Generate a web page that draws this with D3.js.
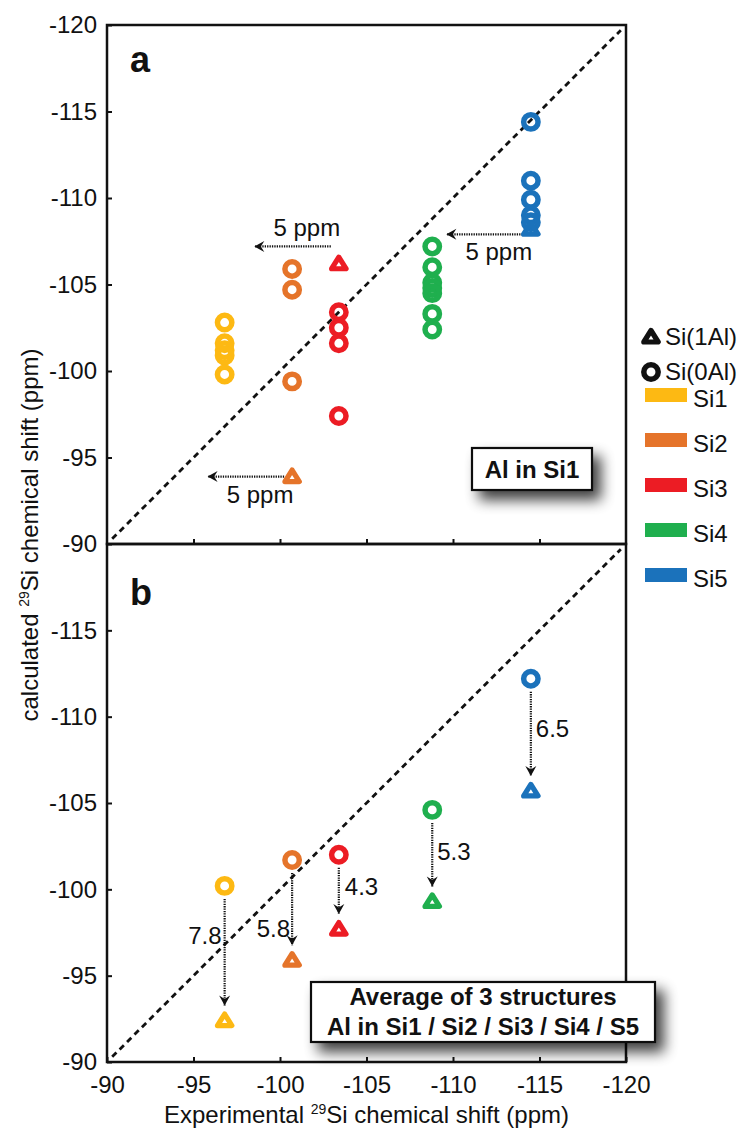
<!DOCTYPE html>
<html>
<head>
<meta charset="utf-8">
<script src="https://cdn.jsdelivr.net/npm/d3@7"></script>
<style>
  body { margin: 0; background: #fff; }
  svg { display: block; }
  text { font-family: "Liberation Sans", Arial, Helvetica, sans-serif; fill: #111; }
</style>
</head>
<body>
<svg id="chart" width="751" height="1130"></svg>
<script>
// Crystallographic Si sites and their colours
const sites = ["Si1", "Si2", "Si3", "Si4", "Si5"];
const siteColors = ["#FDB913", "#E5742A", "#EC1C24", "#1FAF4E", "#1B72BB"];

// Experimental 29Si shift of each site (ppm)
const experimental = [-96.8, -100.7, -103.4, -108.8, -114.5];

// Panel a: calculated shifts with Al in Si1
const calc0AlA = [
  [-102.8, -101.6, -101.2, -100.9, -99.8],
  [-105.9, -104.7, -99.4],
  [-103.4, -102.5, -101.6, -97.4],
  [-107.2, -106.0, -105.1, -104.8, -104.5, -103.3, -102.4],
  [-114.4, -111.0, -109.9, -109.0, -108.6]
];
const calc1AlA = [null, -93.9, -106.2, null, -108.2];

// Panel a: 5 ppm shift arrows (site index, calculated level, shift)
const arrowSitesA = [2, 4, 1];
const arrowLevelsA = [-107.2, -107.9, -93.9];
const arrowShiftA = [5, 5, 5];

// Panel b: average of 3 structures
const avg0AlB = [-100.2, -101.7, -102.0, -104.6, -112.2];
const shiftB = [7.8, 5.8, 4.3, 5.3, 6.5];

// Axis ticks
const tickValues = [-120, -115, -110, -105, -100, -95, -90];

const svg = d3.select("#chart");

const x = d3.scaleLinear().domain([-90, -120]).range([107, 626]);
const yA = d3.scaleLinear().domain([-90, -120]).range([544, 25]);
const yB = d3.scaleLinear().domain([-90, -120]).range([1062, 544]);

// ---------- defs ----------
const defs = svg.append("defs");
defs.append("marker")
  .attr("id", "head")
  .attr("viewBox", "-11 -6 12 12")
  .attr("refX", 0).attr("refY", 0)
  .attr("markerWidth", 12).attr("markerHeight", 12)
  .attr("markerUnits", "userSpaceOnUse")
  .attr("orient", "auto")
  .append("path")
  .attr("d", "M0,0 L-10,-5.5 L-6.5,0 L-10,5.5 Z")
  .attr("fill", "#111");

const shadow = defs.append("filter").attr("id", "shadow")
  .attr("x", "-30%").attr("y", "-60%").attr("width", "170%").attr("height", "260%");
shadow.append("feGaussianBlur").attr("in", "SourceAlpha").attr("stdDeviation", 7).attr("result", "b");
shadow.append("feOffset").attr("in", "b").attr("dx", 8).attr("dy", 9).attr("result", "o");
shadow.append("feComponentTransfer").attr("in", "o").attr("result", "s")
  .append("feFuncA").attr("type", "linear").attr("slope", 0.75);
const merge = shadow.append("feMerge");
merge.append("feMergeNode").attr("in", "s");
merge.append("feMergeNode").attr("in", "SourceGraphic");

// ---------- markers ----------
const triPath = "M0,-6.5 L7.2,5 L-7.2,5 Z";
function circleMark(g, cx, cy, color) {
  g.append("circle").attr("cx", cx).attr("cy", cy).attr("r", 7.2)
    .attr("fill", "none").attr("stroke", color).attr("stroke-width", 5.5);
}
function triMark(g, cx, cy, color) {
  g.append("path").attr("d", triPath)
    .attr("transform", `translate(${cx},${cy})`)
    .attr("fill", "none").attr("stroke", color).attr("stroke-width", 5.2)
    .attr("stroke-linejoin", "round");
}

// ---------- axes ----------
function styleAxis(g) {
  g.select(".domain").remove();
  g.attr("font-size", 24).attr("font-family", null);
  g.selectAll(".tick line").attr("stroke", "#111").attr("stroke-width", 2);
  g.selectAll(".tick text").attr("fill", "#111");
}
const fmt = d => String(d);

svg.append("g").attr("transform", "translate(107,0)")
  .call(d3.axisLeft(yA).tickValues(tickValues).tickSize(-5).tickPadding(10).tickFormat(fmt))
  .call(styleAxis);
svg.append("g").attr("transform", "translate(107,0)")
  .call(d3.axisLeft(yB).tickValues(tickValues.slice(1)).tickSize(-5).tickPadding(10).tickFormat(fmt))
  .call(styleAxis);
svg.append("g").attr("transform", "translate(0,544)")
  .call(d3.axisBottom(x).tickValues(tickValues.slice(1, -1)).tickSize(-5).tickFormat(""))
  .call(styleAxis);
svg.append("g").attr("transform", "translate(0,1062)")
  .call(d3.axisBottom(x).tickValues(tickValues).tickSize(-5).tickPadding(14).tickFormat(fmt))
  .call(styleAxis);

// ---------- frames and diagonals ----------
[yA, yB].forEach(y => {
  svg.append("rect")
    .attr("x", x(-90)).attr("y", y(-120))
    .attr("width", x(-120) - x(-90)).attr("height", y(-90) - y(-120))
    .attr("fill", "none").attr("stroke", "#111").attr("stroke-width", 2.5);
  svg.append("line")
    .attr("x1", x(-90.3)).attr("y1", y(-90.3))
    .attr("x2", x(-119.7)).attr("y2", y(-119.7))
    .attr("stroke", "#111").attr("stroke-width", 2.8)
    .attr("stroke-dasharray", "6,4.5");
});

// ---------- panel labels ----------
svg.append("text").attr("x", 130).attr("y", 72)
  .attr("font-size", 36).attr("font-weight", "bold").text("a");
svg.append("text").attr("x", 130).attr("y", 605)
  .attr("font-size", 36).attr("font-weight", "bold").text("b");

// ---------- panel a ----------
const gA = svg.append("g");
arrowSitesA.forEach((s, k) => {
  const cx = x(experimental[s]);
  const cy = yA(arrowLevelsA[k]);
  const tipX = x(experimental[s] + arrowShiftA[k]);
  const startX = cx - 8;
  gA.append("line")
    .attr("x1", startX).attr("y1", cy).attr("x2", tipX + 2).attr("y2", cy)
    .attr("stroke", "#111").attr("stroke-width", 2.2)
    .attr("stroke-dasharray", "1.3,1.1")
    .attr("marker-end", "url(#head)");
  const above = Math.abs(arrowLevelsA[k] - (calc1AlA[s] ?? arrowLevelsA[k])) > 0.5;
  gA.append("text")
    .attr("x", startX - 24)
    .attr("y", above ? cy - 10 : cy + 26)
    .attr("text-anchor", "middle").attr("font-size", 24)
    .text(arrowShiftA[k] + " ppm");
});
calc0AlA.forEach((vals, i) => {
  vals.forEach(v => circleMark(gA, x(experimental[i]), yA(v), siteColors[i]));
});
calc1AlA.forEach((v, i) => {
  if (v !== null) triMark(gA, x(experimental[i]), yA(v), siteColors[i]);
});

// ---------- panel b ----------
const gB = svg.append("g");
// label placement for the shift values: [anchor, x offset, baseline offset from arrow middle]
const shiftLabelPlace = [["end", -3, -8], ["end", -2, 28], ["start", 6, 4], ["start", 5, 5], ["start", 5, 3]];
avg0AlB.forEach((c, i) => {
  const cx = x(experimental[i]);
  const t = c + shiftB[i];
  const y0 = yB(c) + 13, y1 = yB(t) - 15;
  gB.append("line")
    .attr("x1", cx).attr("y1", y0).attr("x2", cx).attr("y2", y1)
    .attr("stroke", "#111").attr("stroke-width", 2.2)
    .attr("stroke-dasharray", "1.3,1.1")
    .attr("marker-end", "url(#head)");
  const [anchor, dx, dy] = shiftLabelPlace[i];
  gB.append("text")
    .attr("x", cx + dx).attr("y", (y0 + y1) / 2 + dy)
    .attr("text-anchor", anchor).attr("font-size", 24)
    .text(shiftB[i].toFixed(1));
  circleMark(gB, cx, yB(c), siteColors[i]);
  triMark(gB, cx, yB(t), siteColors[i]);
});

// ---------- boxed captions ----------
function captionBox(bx, by, bw, bh, lines, baselines) {
  const g = svg.append("g");
  g.append("rect").attr("x", bx).attr("y", by).attr("width", bw).attr("height", bh)
    .attr("fill", "#fff").attr("stroke", "#111").attr("stroke-width", 2.2)
    .attr("filter", "url(#shadow)");
  lines.forEach((l, k) => {
    g.append("text").attr("x", bx + bw / 2).attr("y", baselines[k])
      .attr("text-anchor", "middle").attr("font-size", 24).attr("font-weight", "bold")
      .text(l);
  });
}
captionBox(472, 448, 120, 42, ["Al in Si1"], [478]);
captionBox(311, 982, 344, 60, ["Average of 3 structures", "Al in Si1 / Si2 / Si3 / Si4 / S5"], [1005, 1035]);

// ---------- legend ----------
const leg = svg.append("g");
triMark(leg, 651, 337, "#111");
leg.append("text").attr("x", 665).attr("y", 345).attr("font-size", 24).text("Si(1Al)");
circleMark(leg, 651, 372, "#111");
leg.append("text").attr("x", 665).attr("y", 380).attr("font-size", 24).text("Si(0Al)");
sites.forEach((s, i) => {
  const cy = 395 + i * 45;
  leg.append("rect").attr("x", 645).attr("y", cy - 7).attr("width", 42).attr("height", 14)
    .attr("fill", siteColors[i]);
  leg.append("text").attr("x", 693).attr("y", cy + 12).attr("font-size", 24).text(s);
});

// ---------- axis titles ----------
const xt = svg.append("text").attr("x", (x(-90) + x(-120)) / 2).attr("y", 1123)
  .attr("text-anchor", "middle").attr("font-size", 24);
xt.append("tspan").text("Experimental ");
xt.append("tspan").attr("font-size", 14).attr("dy", -9).text("29");
xt.append("tspan").attr("dy", 9).text("Si chemical shift (ppm)");

const yt = svg.append("text").attr("transform", "translate(38,535) rotate(-90)")
  .attr("text-anchor", "middle").attr("font-size", 24);
yt.append("tspan").text("calculated ");
yt.append("tspan").attr("font-size", 14).attr("dy", -9).text("29");
yt.append("tspan").attr("dy", 9).text("Si chemical shift (ppm)");
</script>
</body>
</html>
